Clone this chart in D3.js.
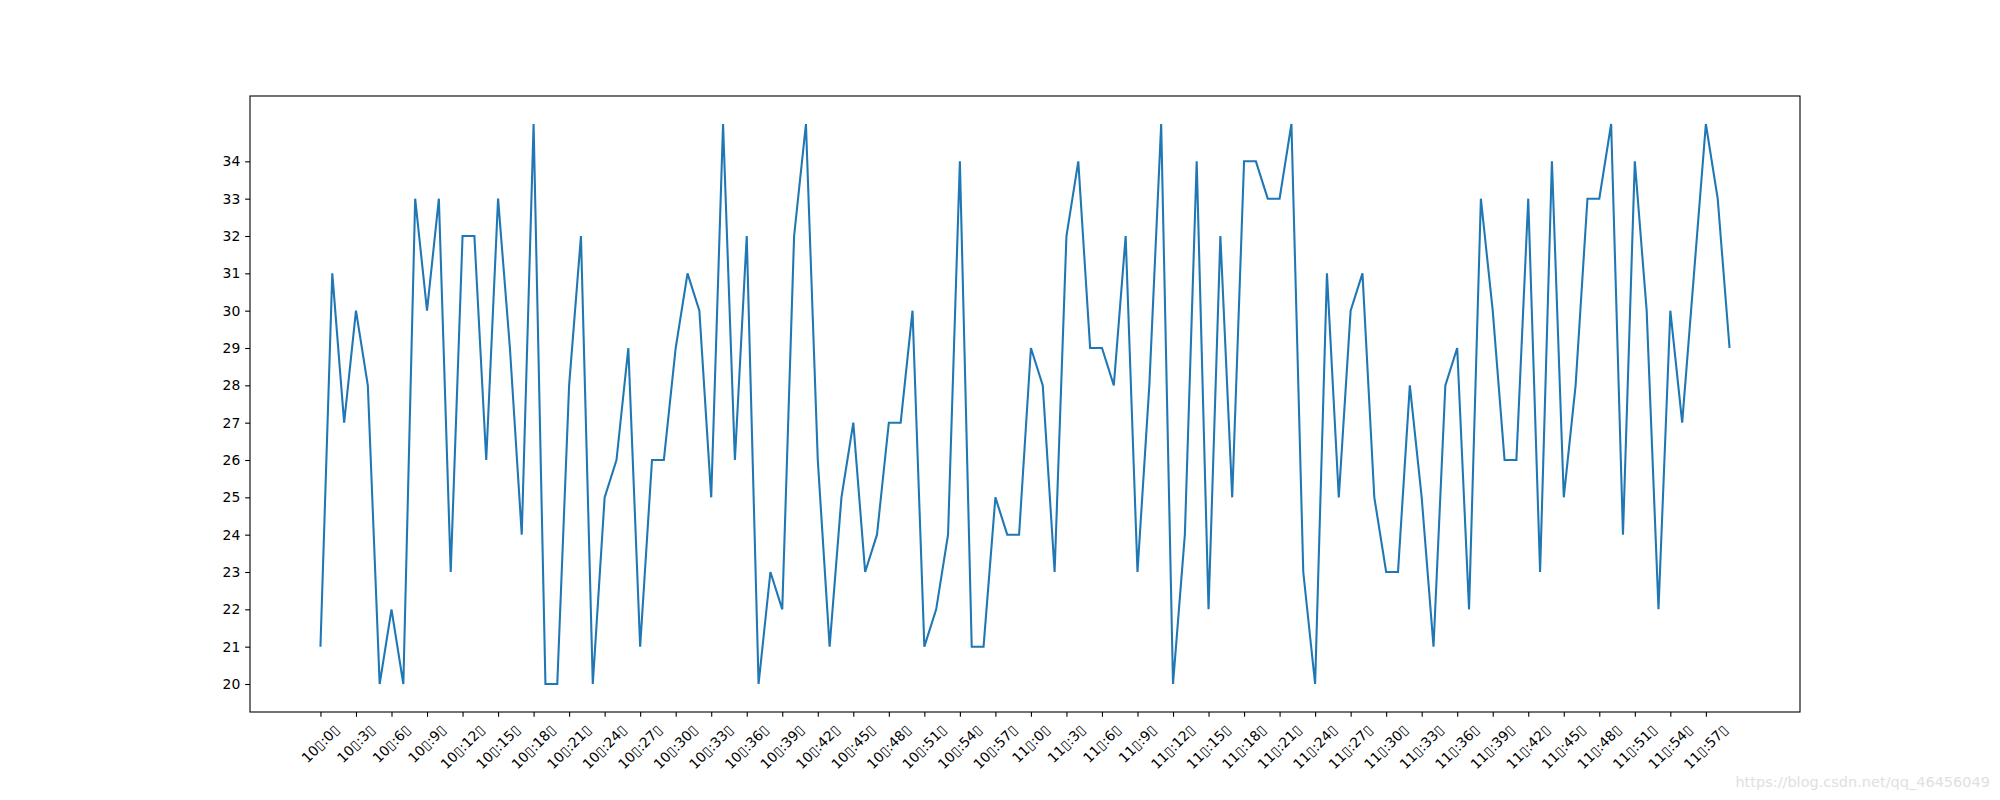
<!DOCTYPE html>
<html>
<head>
<meta charset="utf-8">
<script src="https://cdn.jsdelivr.net/npm/d3@7"></script>
<style>
  html, body { margin: 0; padding: 0; background: #fff; }
  svg { display: block; }
  text { font-family: "DejaVu Sans", sans-serif; }
</style>
</head>
<body>
<svg id="chart" width="2000" height="800"></svg>
<script>
// ---- data ----
const hours = [10, 11];
const minutes = d3.range(60);
const categories = hours.flatMap(h => minutes.map(m => `${h}▯:${m}▯`));
const temperatures = [
  21, 31, 27, 30, 28, 20, 22, 20, 33, 30,
  33, 23, 32, 32, 26, 33, 29, 24, 35, 20,
  20, 28, 32, 20, 25, 26, 29, 21, 26, 26,
  29, 31, 30, 25, 35, 26, 32, 20, 23, 22,
  32, 35, 26, 21, 25, 27, 23, 24, 27, 27,
  30, 21, 22, 24, 34, 21, 21, 25, 24, 24,
  29, 28, 23, 32, 34, 29, 29, 28, 32, 23,
  28, 35, 20, 24, 34, 22, 32, 25, 34, 34,
  33, 33, 35, 23, 20, 31, 25, 30, 31, 25,
  23, 23, 28, 25, 21, 28, 29, 22, 33, 30,
  26, 26, 33, 23, 34, 25, 28, 33, 33, 35,
  24, 34, 30, 22, 30, 27, 31, 35, 33, 29
];
const yTicks = d3.range(20, 35);
const xTickIndex = d3.range(0, 120, 3);
const watermark = "https://blog.csdn.net/qq_46456049";

// ---- layout ----
const plotLeft = 250, plotRight = 1800, plotTop = 96, plotBottom = 712;
const fontPx = 13.9;

const svg = d3.select("#chart");

const n = temperatures.length;
const xPad = (n - 1) * 0.05;
const x = d3.scaleLinear().domain([-xPad, n - 1 + xPad]).range([plotLeft, plotRight]);
const yMin = d3.min(temperatures), yMax = d3.max(temperatures);
const yPad = (yMax - yMin) * 0.05;
const y = d3.scaleLinear().domain([yMin - yPad, yMax + yPad]).range([plotBottom, plotTop]);

// line
const line = d3.line().x((d, i) => x(i)).y(d => y(d));
svg.append("path")
  .datum(temperatures)
  .attr("d", line)
  .attr("fill", "none")
  .attr("stroke", "#1f77b4")
  .attr("stroke-width", 2.08)
  .attr("stroke-linejoin", "miter")
  .attr("stroke-linecap", "butt");

// y axis
const yAxis = d3.axisLeft(y).tickValues(yTicks).tickSize(4.86).tickPadding(4.86).tickFormat(d3.format("d"));
const gy = svg.append("g").attr("transform", `translate(${plotLeft},0)`).call(yAxis);
gy.select(".domain").remove();
gy.selectAll(".tick line").attr("stroke", "#000").attr("stroke-width", 1.1);
gy.selectAll(".tick text").attr("font-size", fontPx).attr("font-family", "DejaVu Sans").attr("fill", "#000");

// x axis
const xAxis = d3.axisBottom(x).tickValues(xTickIndex).tickSize(4.86).tickFormat("");
const gx = svg.append("g").attr("transform", `translate(0,${plotBottom})`).call(xAxis);
gx.select(".domain").remove();
gx.selectAll(".tick line").attr("stroke", "#000").attr("stroke-width", 1.1);

// rotated x labels (bbox centered on tick, top at pad)
const labelTop = plotBottom + 4.86 + 4.86;
const lg = svg.append("g");
xTickIndex.forEach(i => {
  const t = lg.append("text")
    .attr("font-size", fontPx)
    .attr("font-family", "DejaVu Sans")
    .attr("fill", "#000")
    .attr("text-anchor", "middle")
    .attr("dy", "0.35em")
    .text(categories[i]);
  const w = t.node().getComputedTextLength();
  const h = (w + fontPx * 1.15) * Math.SQRT1_2;
  t.attr("transform", `translate(${x(i)},${labelTop + h / 2}) rotate(-45)`);
});

// frame
svg.append("rect")
  .attr("x", plotLeft).attr("y", plotTop)
  .attr("width", plotRight - plotLeft).attr("height", plotBottom - plotTop)
  .attr("fill", "none").attr("stroke", "#000").attr("stroke-width", 1.1);

// watermark
svg.append("text")
  .attr("x", 1990).attr("y", 787)
  .attr("text-anchor", "end")
  .attr("font-family", "Liberation Sans, Arial, sans-serif")
  .attr("font-size", 14.5)
  .attr("fill", "#e0e0e0")
  .text(watermark);
</script>
</body>
</html>
